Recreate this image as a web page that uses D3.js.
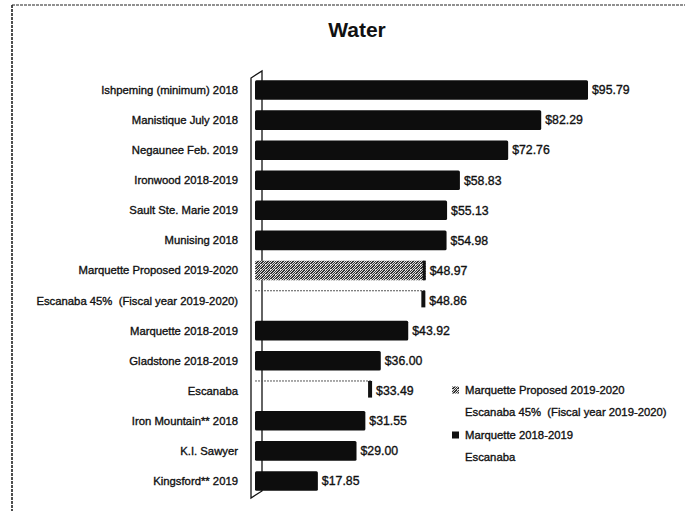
<!DOCTYPE html>
<html>
<head>
<meta charset="utf-8">
<script src="https://cdn.jsdelivr.net/npm/d3@7"></script>
<style>
  body { margin: 0; background: #fff; }
  text { font-family: "Liberation Sans", Arial, sans-serif; fill: #111; white-space: pre; }
  .scan { stroke: #111; stroke-width: 0.35px; }
</style>
</head>
<body>
<script>
var categories = [
  "Ishpeming (minimum) 2018",
  "Manistique July 2018",
  "Negaunee Feb. 2019",
  "Ironwood 2018-2019",
  "Sault Ste. Marie 2019",
  "Munising 2018",
  "Marquette Proposed 2019-2020",
  "Escanaba 45%  (Fiscal year 2019-2020)",
  "Marquette 2018-2019",
  "Gladstone 2018-2019",
  "Escanaba",
  "Iron Mountain** 2018",
  "K.I. Sawyer",
  "Kingsford** 2019"
];
var values = [95.79, 82.29, 72.76, 58.83, 55.13, 54.98, 48.97, 48.86, 43.92, 36.00, 33.49, 31.55, 29.00, 17.85];
// which style each bar gets: "solid", "pattern" or "open"
var styles = ["solid", "solid", "solid", "solid", "solid", "solid", "pattern", "open",
              "solid", "solid", "open", "solid", "solid", "solid"];
var legendLabels = ["Marquette Proposed 2019-2020", "Escanaba 45%  (Fiscal year 2019-2020)",
                    "Marquette 2018-2019", "Escanaba"];
var legendStyles = ["pattern", "open", "solid", "open"];

var width = 685, height = 511;

var svg = d3.select("body").append("svg")
    .attr("width", width)
    .attr("height", height);

// mottled pattern like the scanned hatched bar
var defs = svg.append("defs");
var pat = defs.append("pattern")
    .attr("id", "stipple")
    .attr("width", 5).attr("height", 5)
    .attr("patternUnits", "userSpaceOnUse");
pat.append("rect").attr("width", 5).attr("height", 5).attr("fill", "#333");
[[0,0],[2,0],[4,1],[1,1],[3,2],[0,2],[2,3],[4,3],[1,4],[3,4],[0,4]].forEach(function(p) {
  pat.append("rect").attr("x", p[0]).attr("y", p[1]).attr("width", 1).attr("height", 1).attr("fill", "#ddd");
});

// scanned chart border (top and left only)
svg.append("line")
    .attr("x1", 12).attr("y1", 5).attr("x2", width).attr("y2", 5)
    .attr("stroke", "#222").attr("stroke-width", 1.2).attr("stroke-dasharray", "3,1");
svg.append("line")
    .attr("x1", 12).attr("y1", 5).attr("x2", 12).attr("y2", height)
    .attr("stroke", "#222").attr("stroke-width", 1.6).attr("stroke-dasharray", "3,1");

svg.append("text")
    .attr("x", 357).attr("y", 37)
    .attr("text-anchor", "middle")
    .style("font-size", "21px").style("font-weight", "bold")
    .text("Water");

var x = d3.scaleLinear().domain([0, 100]).range([256, 602.6]);
var y = d3.scaleBand().domain(categories).range([75, 496]).paddingInner(0.35).paddingOuter(0.175);

// 3D wall behind the bars
var wx = 251, depth = 11;
svg.append("path")
    .attr("d", "M" + wx + ",498 L" + wx + ",78 L" + (wx + depth) + ",71 L" + (wx + depth) + ",491 Z")
    .attr("fill", "none").attr("stroke", "#111").attr("stroke-width", 1.3);

var yAxis = d3.axisLeft(y).tickSize(0).tickPadding(0);
var gy = svg.append("g")
    .attr("transform", "translate(238,0)")
    .call(yAxis);
gy.select(".domain").remove();
gy.selectAll("text")
    .attr("class", "scan")
    .style("font-family", "Liberation Sans, Arial, sans-serif")
    .style("font-size", "11.3px").style("fill", "#111").attr("dy", "0.35em");

var bars = svg.append("g").selectAll("g")
    .data(categories)
  .enter().append("g");

bars.each(function(d, i) {
  var g = d3.select(this);
  var by = y(d), bh = y.bandwidth(), bx = x(0) - 1, bw = x(values[i]) - x(0) + 1;
  if (styles[i] === "open") {
    g.append("line")
        .attr("x1", bx).attr("x2", bx + bw).attr("y1", by).attr("y2", by)
        .attr("stroke", "#555").attr("stroke-width", 1).attr("stroke-dasharray", "2,1");
    g.append("rect")
        .attr("x", bx + bw - 4).attr("y", by).attr("width", 4).attr("height", bh * 0.85)
        .attr("fill", "#111");
  } else {
    g.append("rect")
        .attr("x", bx).attr("y", by).attr("width", bw).attr("height", bh)
        .attr("rx", 1.5)
        .attr("fill", styles[i] === "pattern" ? "url(#stipple)" : "#0d0d0d");
    if (styles[i] === "pattern") {
      g.append("rect")
          .attr("x", bx + bw - 3).attr("y", by).attr("width", 3).attr("height", bh)
          .attr("fill", "#111");
    }
  }
  g.append("text")
      .attr("class", "scan")
      .attr("x", x(values[i]) + 4)
      .attr("y", by + bh / 2)
      .attr("dy", "0.35em")
      .style("font-size", "12.3px")
      .text("$" + values[i].toFixed(2));
});

// legend
var legend = svg.selectAll(".legend")
    .data(legendLabels)
  .enter().append("g")
    .attr("class", "legend")
    .attr("transform", function(d, i) { return "translate(452," + (390 + i * 22.5) + ")"; });

legend.append("rect")
    .attr("x", 0).attr("y", -3.5).attr("width", 7).attr("height", 7)
    .attr("fill", function(d, i) {
      return legendStyles[i] === "pattern" ? "url(#stipple)" : legendStyles[i] === "solid" ? "#111" : "none";
    });

legend.append("text")
    .attr("class", "scan")
    .attr("x", 13)
    .attr("dy", "0.35em")
    .style("font-size", "11.3px")
    .text(function(d) { return d; });
</script>
</body>
</html>
